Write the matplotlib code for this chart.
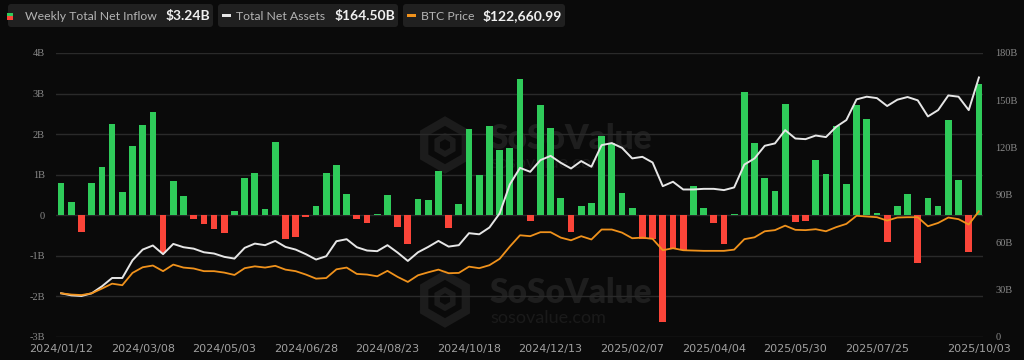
import matplotlib
matplotlib.use('Agg')
import matplotlib.pyplot as plt
from matplotlib.patches import FancyBboxPatch, RegularPolygon, Rectangle
from matplotlib.transforms import IdentityTransform, ScaledTranslation
import numpy as np

# weekly net inflow (B USD), one bar per week from 2024/01/12 to 2025/10/03
NET_INFLOW = [
    0.80, 0.33, -0.41, 0.80, 1.18, 2.26, 0.57, 1.71, 2.22, 2.55,
    -0.93, 0.84, 0.47, -0.09, -0.21, -0.34, -0.44, 0.10, 0.93, 1.05,
    0.16, 1.81, -0.58, -0.54, -0.05, 0.22, 1.03, 1.23, 0.52, -0.09,
    -0.18, 0.02, 0.49, -0.29, -0.72, 0.39, 0.38, 1.09, -0.31, 0.29,
    2.12, 0.99, 2.21, 1.62, 1.66, 3.37, -0.14, 2.72, 2.16, 0.43,
    -0.40, 0.23, 0.30, 1.95, 1.77, 0.54, 0.19, -0.58, -0.58, -2.62,
    -0.80, -0.86, 0.73, 0.18, -0.18, -0.72, 0.02, 3.05, 1.79, 0.92,
    0.59, 2.74, -0.16, -0.14, 1.37, 1.01, 2.20, 0.76, 2.71, 2.38,
    0.06, -0.65, 0.24, 0.53, -1.18, 0.43, 0.24, 2.34, 0.87, -0.91,
    3.24,
]
# total net assets (B USD)
NET_ASSETS = [
    27.7, 26.4, 26.0, 27.7, 32.1, 37.4, 37.4, 48.6, 55.4, 58.0,
    52.5, 59.0, 56.9, 56.0, 53.7, 52.9, 50.8, 49.7, 56.5, 59.2,
    58.2, 60.9, 57.1, 55.4, 52.5, 49.1, 51.2, 60.7, 62.0, 56.9,
    54.8, 54.4, 58.2, 53.5, 48.2, 53.7, 57.1, 60.9, 57.3, 58.2,
    65.8, 65.1, 69.4, 78.3, 96.7, 107.2, 104.7, 112.1, 114.8, 110.4,
    106.8, 111.5, 107.9, 121.6, 122.9, 119.9, 113.2, 114.2, 110.6, 95.6,
    98.4, 93.5, 93.5, 93.9, 93.9, 93.1, 94.8, 109.3, 113.2, 121.2,
    122.7, 131.1, 125.8, 125.4, 127.7, 126.7, 133.2, 137.5, 150.6, 152.3,
    151.4, 146.4, 150.4, 152.1, 150.0, 139.8, 143.8, 153.1, 152.3, 143.8,
    164.5,
]
# BTC price (k USD)
BTC_PRICE = [
    42.6, 41.4, 40.9, 42.6, 47.2, 52.0, 50.5, 62.5, 68.0, 69.7,
    64.2, 70.6, 67.7, 66.8, 64.2, 64.2, 62.8, 60.5, 67.1, 68.9,
    67.7, 69.4, 65.7, 64.2, 60.9, 56.9, 57.5, 66.0, 67.7, 61.5,
    60.9, 59.2, 64.5, 58.6, 53.7, 60.2, 63.1, 65.7, 62.2, 62.5,
    68.6, 67.1, 70.0, 76.2, 88.2, 99.2, 98.3, 102.2, 102.2, 96.9,
    94.3, 98.3, 95.1, 104.8, 104.8, 101.8, 96.3, 96.9, 95.7, 84.6,
    86.6, 84.6, 84.3, 84.0, 84.0, 84.0, 85.2, 95.4, 97.2, 103.1,
    104.2, 108.6, 104.5, 104.2, 105.1, 103.1, 107.1, 110.3, 118.2, 117.5,
    116.8, 113.5, 116.5, 116.8, 116.8, 108.0, 111.2, 116.5, 114.9, 109.7,
    122.66,
]
TICK_POS = [0, 8, 16, 24, 32, 40, 48, 56, 64, 72, 80, 90]
TICK_LABELS = ['2024/01/12', '2024/03/08', '2024/05/03', '2024/06/28',
               '2024/08/23', '2024/10/18', '2024/12/13', '2025/02/07',
               '2025/04/04', '2025/05/30', '2025/07/25', '2025/10/03']
LEFT_TICKS = [-3, -2, -1, 0, 1, 2, 3, 4]
LEFT_LABELS = ['-3B', '-2B', '-1B', '0', '1B', '2B', '3B', '4B']
RIGHT_TICKS = [0, 30, 60, 90, 120, 150, 180]
RIGHT_LABELS = ['0', '30B', '60B', '90B', '120B', '150B', '180B']

BG = '#0a0a0a'
GREEN, RED = '#2fcb5a', '#fb4539'
WHITE, ORANGE = '#e6e6e6', '#f0921c'
GRID, TICK = '#2a2a2a', '#8a8a8a'
W, H = 1024, 360

fig = plt.figure(figsize=(W / 100, H / 100), dpi=100, facecolor=BG)
PX = IdentityTransform()   # display pixels, origin bottom-left


def fx(x):
    return x / W


def fy(y):
    return 1 - y / H


ax = fig.add_axes([fx(56), fy(337), fx(983) - fx(56), fy(53) - fy(337)])
ax.set_facecolor('none')
ax.set_zorder(2)

# watermarks (behind everything)
for cy, sub_dy in [(139, 24), (293, 25)]:
    fig.patches.append(RegularPolygon((445, H - (cy + 6)), 6, radius=24,
                                      orientation=0, transform=PX,
                                      fill=False, ec='#1c1c1c', lw=6, zorder=0))
    fig.patches.append(RegularPolygon((445, H - (cy + 6)), 6, radius=9,
                                      orientation=0, transform=PX,
                                      fill=False, ec='#1c1c1c', lw=4, zorder=0))
    fig.text(fx(490), fy(cy), 'SoSoValue', color='#1e1e1e', fontsize=24,
             fontweight='heavy', family='Lato', va='center', ha='left', zorder=0)
    fig.text(fx(490), fy(cy + sub_dy), 'sosovalue.com', color='#1a1a1a',
             fontsize=13, family='Lato', va='center', ha='left', zorder=0)

x = np.arange(len(NET_INFLOW))
vals = np.array(NET_INFLOW)
ax.bar(x, vals, width=0.66, color=np.where(vals >= 0, GREEN, RED), zorder=3)
ax.set_xlim(-0.5, 90.4)
ax.set_ylim(-3, 4)
ax.set_yticks(LEFT_TICKS)
ax.set_yticklabels(LEFT_LABELS, family='Liberation Serif', fontsize=7.5, color=TICK)
ax.set_xticks(TICK_POS)
ax.set_xticklabels(TICK_LABELS, family=['Liberation Sans Narrow', 'DejaVu Sans'],
                   fontsize=8, color='#a0a0a0')
last = ax.get_xticklabels()[-1]
last.set_transform(last.get_transform() + ScaledTranslation(-0.07, 0, fig.dpi_scale_trans))
ax.tick_params(length=0, pad=8)
ax.tick_params(axis='x', pad=5)
ax.grid(axis='y', color=GRID, lw=1)
ax.set_axisbelow(True)
for s in ax.spines.values():
    s.set_visible(False)

ax2 = ax.twinx()
ax2.set_zorder(3)
ax2.plot(x, NET_ASSETS, color=WHITE, lw=1.4)
ax2.set_ylim(0, 180)
ax2.set_yticks(RIGHT_TICKS)
ax2.set_yticklabels(RIGHT_LABELS, family='Liberation Serif', fontsize=7.5, color=TICK)
ax2.tick_params(length=0, pad=9)

ax3 = ax.twinx()
ax3.set_zorder(4)
ax3.plot(x, BTC_PRICE, color=ORANGE, lw=1.3)
ax3.set_ylim(0, 180 / 0.65)
ax3.set_yticks([])
for a in (ax2, ax3):
    a.set_facecolor('none')
    for s in a.spines.values():
        s.set_visible(False)

# legend chips
chips = [
    (8, 213, 'Weekly Total Net Inflow', '$3.24B', None),
    (218, 398, 'Total Net Assets', '$164.50B', WHITE),
    (403, 565, 'BTC Price', '$122,660.99', ORANGE),
]
for x0, x1, label, value, col in chips:
    fig.patches.append(FancyBboxPatch((x0, H - 27), x1 - x0, 23,
                                      boxstyle='round,pad=0,rounding_size=3',
                                      transform=PX, fc='#202020',
                                      ec='none', zorder=1))
    if col is None:
        fig.patches.append(Rectangle((7, H - 16), 6, 3, transform=PX, fc=GREEN, zorder=2))
        fig.patches.append(Rectangle((7, H - 20), 6, 4, transform=PX, fc=RED, zorder=2))
        tx = x0 + 17
    else:
        fig.patches.append(Rectangle((x0 + 4, H - 17), 9, 3, transform=PX, fc=col, zorder=2))
        tx = x0 + 18
    fig.text(fx(tx), fy(16), label, color='#b4b4b4', fontsize=8.8,
             family='Lato', va='center', ha='left', zorder=3)
    fig.text(fx(x1 - 3), fy(16), value, color='#f0f0f0', fontsize=10,
             fontweight='bold', family='Lato', va='center', ha='right', zorder=3)

fig.savefig('out.png', dpi=100, facecolor=BG)
